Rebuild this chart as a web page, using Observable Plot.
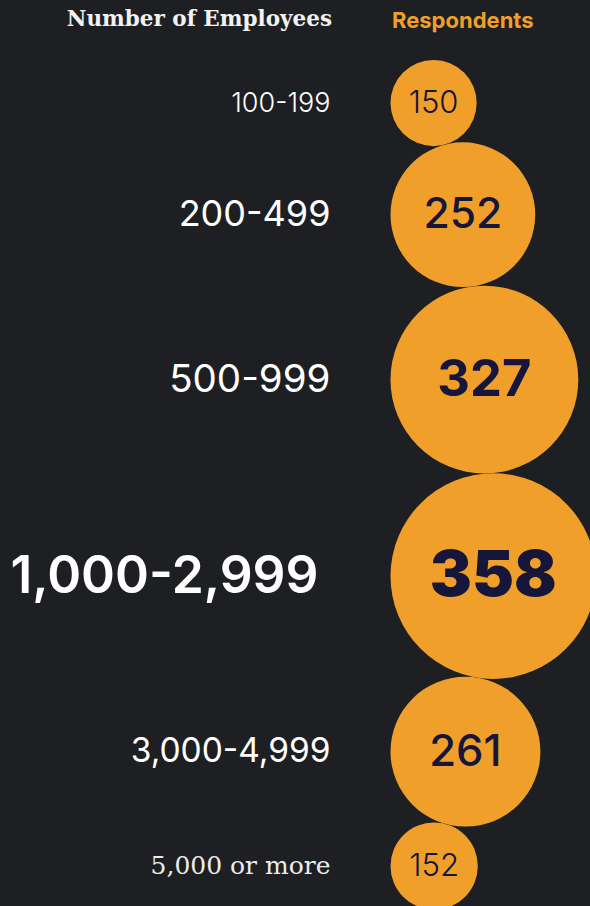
<!DOCTYPE html>
<html>
<head>
<meta charset="utf-8">
<script src="https://cdn.jsdelivr.net/npm/d3@7"></script>
<script src="https://cdn.jsdelivr.net/npm/@observablehq/plot@0.6"></script>
<style>
html, body { margin: 0; padding: 0; background: #1e1f22; }
#wrap { position: relative; width: 590px; height: 906px; overflow: hidden; background: #1e1f22; }
#wrap svg { position: absolute; left: 0; top: 0; }
#hdr-left { position: absolute; right: 258px; top: 5px; font-family: "DejaVu Serif", "Liberation Serif", serif; font-weight: bold; font-size: 21.5px; line-height: 28px; color: #f2f2f2; white-space: nowrap; }
#hdr-right { position: absolute; left: 392px; top: 6px; font-family: Inter, sans-serif; font-weight: 700; font-size: 22px; line-height: 28px; color: #f0a02a; white-space: nowrap; }
</style>
</head>
<body>
<div id="wrap"></div>
<script>
// ---- data ----
const categories = ["100-199", "200-499", "500-999", "1,000-2,999", "3,000-4,999", "5,000 or more"];
const respondents = [150, 252, 327, 358, 261, 152];
const titleLeft = "Number of Employees";
const titleRight = "Respondents";

// ---- layout derived from values ----
const maxV = d3.max(respondents);
const maxR = 102.8;              // radius in px of the largest bubble
const k = maxR / maxV;           // px per respondent
const topPx = 59.5;              // top edge of first bubble
// bubbles are stacked, each tangent to the previous one (left-aligned)
let c = 0;
const rows = categories.map((cat, i) => {
  const v = respondents[i];
  c = i === 0 ? v : c + 2 * Math.sqrt(respondents[i - 1] * v);
  return {category: cat, value: v, pos: c};
});
const span = 3000;

// styles derived from value
const numSize = d3.scaleLinear().domain([150, 260, 330, 358]).range([31, 43.5, 51, 63]);
const numWeight = v => v >= 350 ? 900 : v >= 300 ? 700 : v >= 200 ? 500 : 300;
const labSize = d3.scaleLinear().domain([150, 252, 261, 327, 358]).range([27, 36, 33.5, 38.5, 51.5]);
const labWeight = v => v >= 350 ? 600 : v >= 200 ? 400 : 300;
const labGap = v => v >= 350 ? -72 : -60;
const isWordy = s => /[a-z]/i.test(s);

const chart = Plot.plot({
  width: 590,
  height: 906,
  margin: 0,
  style: {background: "transparent", overflow: "hidden"},
  x: {domain: [0, maxV], range: [390, 390 + maxR], axis: null},
  y: {domain: [0, span], range: [topPx, topPx + span * k], axis: null},
  r: {type: "linear", domain: [0, maxV], range: [0, maxR]},
  marks: [
    Plot.dot(rows, {x: "value", y: "pos", r: "value", fill: "#f0a02a"}),
    ...rows.map(d => Plot.text([d], {
      x: "value", y: "pos", text: r => String(r.value),
      fill: "#15163a", fontFamily: "Inter", fontSize: numSize(d.value), fontWeight: numWeight(d.value)
    })),
    ...rows.map(d => Plot.text([d], {
      x: 0, y: "pos", text: "category", textAnchor: "end", dx: labGap(d.value),
      fill: isWordy(d.category) ? "#ececec" : "#ffffff",
      fontFamily: isWordy(d.category) ? "DejaVu Serif, Liberation Serif, serif" : "Inter",
      fontSize: isWordy(d.category) ? 25 : labSize(d.value),
      fontWeight: isWordy(d.category) ? 300 : labWeight(d.value)
    }))
  ]
});

const wrap = document.getElementById("wrap");
wrap.appendChild(chart);
const hl = document.createElement("div"); hl.id = "hdr-left"; hl.textContent = titleLeft; wrap.appendChild(hl);
const hr = document.createElement("div"); hr.id = "hdr-right"; hr.textContent = titleRight; wrap.appendChild(hr);
</script>
</body>
</html>
